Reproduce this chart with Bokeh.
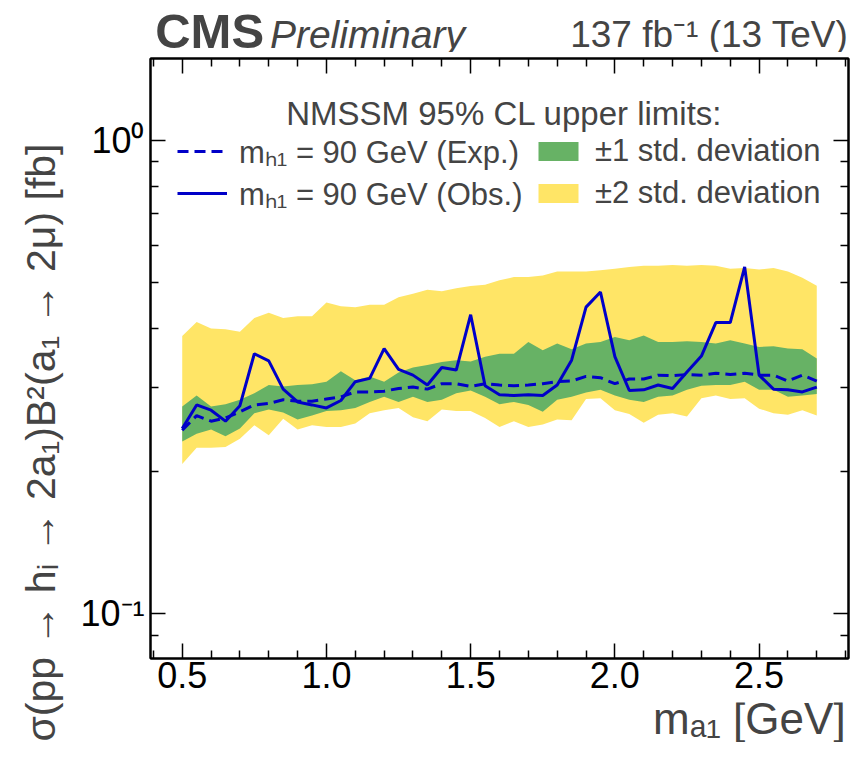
import numpy as np
from bokeh.plotting import figure
from bokeh.layouts import row, column
from bokeh.models import (Range1d, FixedTicker, LogAxis, LinearAxis, Label,
                          Legend, LegendItem)
from bokeh.embed import file_html
from bokeh.resources import INLINE

# ---------------- data ----------------
mass = [0.50, 0.55, 0.60, 0.65, 0.70, 0.75, 0.80, 0.85, 0.90, 0.95,
        1.00, 1.05, 1.10, 1.15, 1.20, 1.25, 1.30, 1.35, 1.40, 1.45,
        1.50, 1.55, 1.60, 1.65, 1.70, 1.75, 1.80, 1.85, 1.90, 1.95,
        2.00, 2.05, 2.10, 2.15, 2.20, 2.25, 2.30, 2.35, 2.40, 2.45,
        2.50, 2.55, 2.60, 2.65, 2.70]

observed = [0.246, 0.276, 0.269, 0.255, 0.275, 0.354, 0.342, 0.298, 0.280, 0.276,
            0.272, 0.282, 0.309, 0.314, 0.363, 0.328, 0.319, 0.304, 0.331, 0.327,
            0.428, 0.303, 0.290, 0.289, 0.290, 0.289, 0.304, 0.343, 0.444, 0.478,
            0.349, 0.296, 0.297, 0.304, 0.299, 0.324, 0.350, 0.412, 0.412, 0.540,
            0.319, 0.298, 0.297, 0.294, 0.301]

expected = [0.244, 0.262, 0.255, 0.259, 0.267, 0.276, 0.278, 0.283, 0.281, 0.281,
            0.284, 0.287, 0.294, 0.294, 0.295, 0.299, 0.301, 0.298, 0.306, 0.306,
            0.302, 0.306, 0.304, 0.303, 0.304, 0.306, 0.309, 0.310, 0.317, 0.315,
            0.306, 0.313, 0.313, 0.319, 0.318, 0.320, 0.319, 0.322, 0.320, 0.322,
            0.319, 0.319, 0.310, 0.319, 0.310]

one_sigma_up = [0.274, 0.289, 0.274, 0.277, 0.283, 0.292, 0.304, 0.302, 0.304, 0.305,
                0.309, 0.325, 0.311, 0.317, 0.309, 0.323, 0.331, 0.335, 0.340, 0.343,
                0.341, 0.349, 0.354, 0.354, 0.375, 0.360, 0.372, 0.362, 0.372, 0.375,
                0.384, 0.378, 0.387, 0.375, 0.375, 0.376, 0.375, 0.372, 0.378, 0.372,
                0.366, 0.367, 0.363, 0.362, 0.346]

one_sigma_down = [0.231, 0.240, 0.245, 0.237, 0.246, 0.265, 0.270, 0.266, 0.257, 0.262,
                  0.268, 0.269, 0.272, 0.280, 0.287, 0.280, 0.287, 0.280, 0.283, 0.292,
                  0.296, 0.287, 0.277, 0.280, 0.276, 0.267, 0.283, 0.287, 0.293, 0.297,
                  0.289, 0.283, 0.280, 0.287, 0.289, 0.297, 0.303, 0.304, 0.304, 0.309,
                  0.297, 0.297, 0.287, 0.289, 0.291]

two_sigma_up = [0.386, 0.413, 0.400, 0.399, 0.394, 0.421, 0.432, 0.421, 0.425, 0.425,
                0.454, 0.446, 0.444, 0.449, 0.449, 0.466, 0.474, 0.483, 0.480, 0.487,
                0.492, 0.495, 0.506, 0.514, 0.514, 0.518, 0.528, 0.528, 0.528, 0.531,
                0.535, 0.540, 0.543, 0.543, 0.545, 0.543, 0.545, 0.543, 0.535, 0.537,
                0.533, 0.537, 0.528, 0.512, 0.493]

two_sigma_down = [0.207, 0.224, 0.224, 0.225, 0.234, 0.250, 0.238, 0.258, 0.245, 0.250,
                  0.248, 0.248, 0.252, 0.265, 0.269, 0.272, 0.260, 0.255, 0.270, 0.268,
                  0.268, 0.259, 0.248, 0.255, 0.248, 0.251, 0.257, 0.256, 0.284, 0.285,
                  0.269, 0.264, 0.253, 0.263, 0.265, 0.261, 0.285, 0.289, 0.284, 0.285,
                  0.271, 0.265, 0.263, 0.269, 0.262]

x_ticks = [0.5, 1.0, 1.5, 2.0, 2.5]
x_tick_labels = ["0.5", "1.0", "1.5", "2.0", "2.5"]
x_minor = [0.4, 0.6, 0.7, 0.8, 0.9, 1.1, 1.2, 1.3, 1.4, 1.6, 1.7, 1.8, 1.9,
           2.1, 2.2, 2.3, 2.4, 2.6, 2.7, 2.8]
y_ticks = [0.1, 1.0]
y_tick_labels = ["10\u207b\u00b9", "10\u2070"]
y_minor = [0.08, 0.09, 0.2, 0.3, 0.4, 0.5, 0.6, 0.7, 0.8, 0.9]

# ---------------- styling ----------------
FONT = "Liberation Sans"
BLUE = "#0000c8"
GREEN = "#67b265"
YELLOW = "#ffe566"

TOTAL_W, TOTAL_H = 850, 742
YL_W = 70                      # strip holding the y-axis title
MAIN_W = TOTAL_W - YL_W        # 780
HEAD_H = 52                    # strip holding CMS / lumi texts
MAIN_H = 650
XL_H = TOTAL_H - HEAD_H - MAIN_H   # 40

x_range = Range1d(0.39, 2.81)


def text_strip(w, h, xr=None):
    f = figure(width=w, height=h, output_backend="svg", toolbar_location=None,
               x_range=xr if xr is not None else Range1d(0, w),
               y_range=Range1d(0, h),
               x_axis_location=None, y_axis_location=None,
               min_border=0, outline_line_color=None)
    f.xgrid.visible = False
    f.ygrid.visible = False
    return f


# ---------------- main plot ----------------
p = figure(width=MAIN_W, height=MAIN_H, output_backend="svg",
           toolbar_location=None,
           x_range=x_range, y_range=Range1d(0.0804, 1.488),
           y_axis_type="log",
           min_border_left=80, min_border_right=2,
           min_border_top=6, min_border_bottom=44)
p.xgrid.visible = False
p.ygrid.visible = False
p.outline_line_color = "black"
p.outline_line_width = 2
p.background_fill_color = "white"

y2 = p.varea(x=mass, y1=two_sigma_down, y2=two_sigma_up, fill_color=YELLOW)
y1 = p.varea(x=mass, y1=one_sigma_down, y2=one_sigma_up, fill_color=GREEN)
le = p.line(mass, expected, line_color=BLUE, line_width=3, line_dash="11 6")
lo = p.line(mass, observed, line_color=BLUE, line_width=3)


def style_axis(ax, ticks, minor, labels=None, show_labels=True):
    ax.ticker = FixedTicker(ticks=ticks, minor_ticks=minor)
    ax.major_tick_in = 15
    ax.major_tick_out = 0
    ax.minor_tick_in = 8
    ax.minor_tick_out = 0
    ax.major_tick_line_width = 1.5
    ax.minor_tick_line_width = 1.5
    ax.axis_line_width = 2
    ax.major_label_text_font = FONT
    ax.major_label_text_color = "black"
    if labels is not None:
        ax.major_label_overrides = dict(zip(ticks, labels))
    if show_labels:
        ax.major_label_text_font_size = "36px"
    else:
        ax.major_label_text_font_size = "1px"
        ax.major_label_text_color = None
        ax.major_label_standoff = 0


style_axis(p.xaxis[0], x_ticks, x_minor, x_tick_labels)
p.xaxis[0].major_label_standoff = 3
style_axis(p.yaxis[0], y_ticks, y_minor, y_tick_labels)
p.yaxis[0].major_label_standoff = 6

top_ax = LinearAxis()
style_axis(top_ax, x_ticks, x_minor, show_labels=False)
p.add_layout(top_ax, "above")
right_ax = LogAxis()
style_axis(right_ax, y_ticks, y_minor, show_labels=False)
p.add_layout(right_ax, "right")

legend = Legend(items=[
    LegendItem(label="m\u2095\u2081 = 90 GeV (Exp.)", renderers=[le]),
    LegendItem(label="m\u2095\u2081 = 90 GeV (Obs.)", renderers=[lo]),
    LegendItem(label="\u00b11 std. deviation", renderers=[y1]),
    LegendItem(label="\u00b12 std. deviation", renderers=[y2]),
], ncols=2, location=(27, 444), padding=0, margin=0, spacing=0,
    glyph_width=50, glyph_height=24, label_standoff=12, label_width=294,
    label_text_font=FONT, label_text_font_size="31px",
    border_line_color=None, background_fill_alpha=0)
p.add_layout(legend, "center")

p.add_layout(Label(x=354, y=545, x_units="screen", y_units="screen",
                   text="NMSSM 95% CL upper limits:", text_font=FONT,
                   text_font_size="33px", text_align="center",
                   text_baseline="middle"))

# ---------------- header strip (shares the x scale of the plot) ----------------
head = text_strip(MAIN_W, HEAD_H, x_range)
head.add_layout(Label(x=0.595, y=21.5, text="CMS", text_font=FONT,
                      text_font_style="bold", text_font_size="49px",
                      text_align="center", text_baseline="middle"))
head.add_layout(Label(x=1.142, y=18.5, text="Preliminary", text_font=FONT,
                      text_font_style="italic", text_font_size="39px",
                      text_align="center", text_baseline="middle"))
head.add_layout(Label(x=2.81, y=18, text="137 fb\u207b\u00b9 (13 TeV)",
                      text_font=FONT, text_font_size="37px",
                      text_align="right", text_baseline="middle"))

# ---------------- x-axis title strip ----------------
xl = text_strip(MAIN_W, XL_H, x_range)
xl.add_layout(Label(x=2.80, y=24, text="m\u2090\u2081 [GeV]", text_font=FONT,
                    text_font_size="44px", text_align="right",
                    text_baseline="middle"))

# ---------------- y-axis title strip ----------------
yl = text_strip(YL_W, TOTAL_H)
yl.add_layout(Label(x=40, y=300, angle=np.pi / 2,
                    text="\u03c3(pp \u2192 h\u1d62 \u2192 2a\u2081)B\u00b2(a\u2081 \u2192 2\u03bc) [fb]",
                    text_font=FONT, text_font_size="41px", text_align="center",
                    text_baseline="middle"))

layout = row(yl, column(head, p, xl, spacing=0), spacing=0)

open("out.html", "w").write(file_html(layout, INLINE))
